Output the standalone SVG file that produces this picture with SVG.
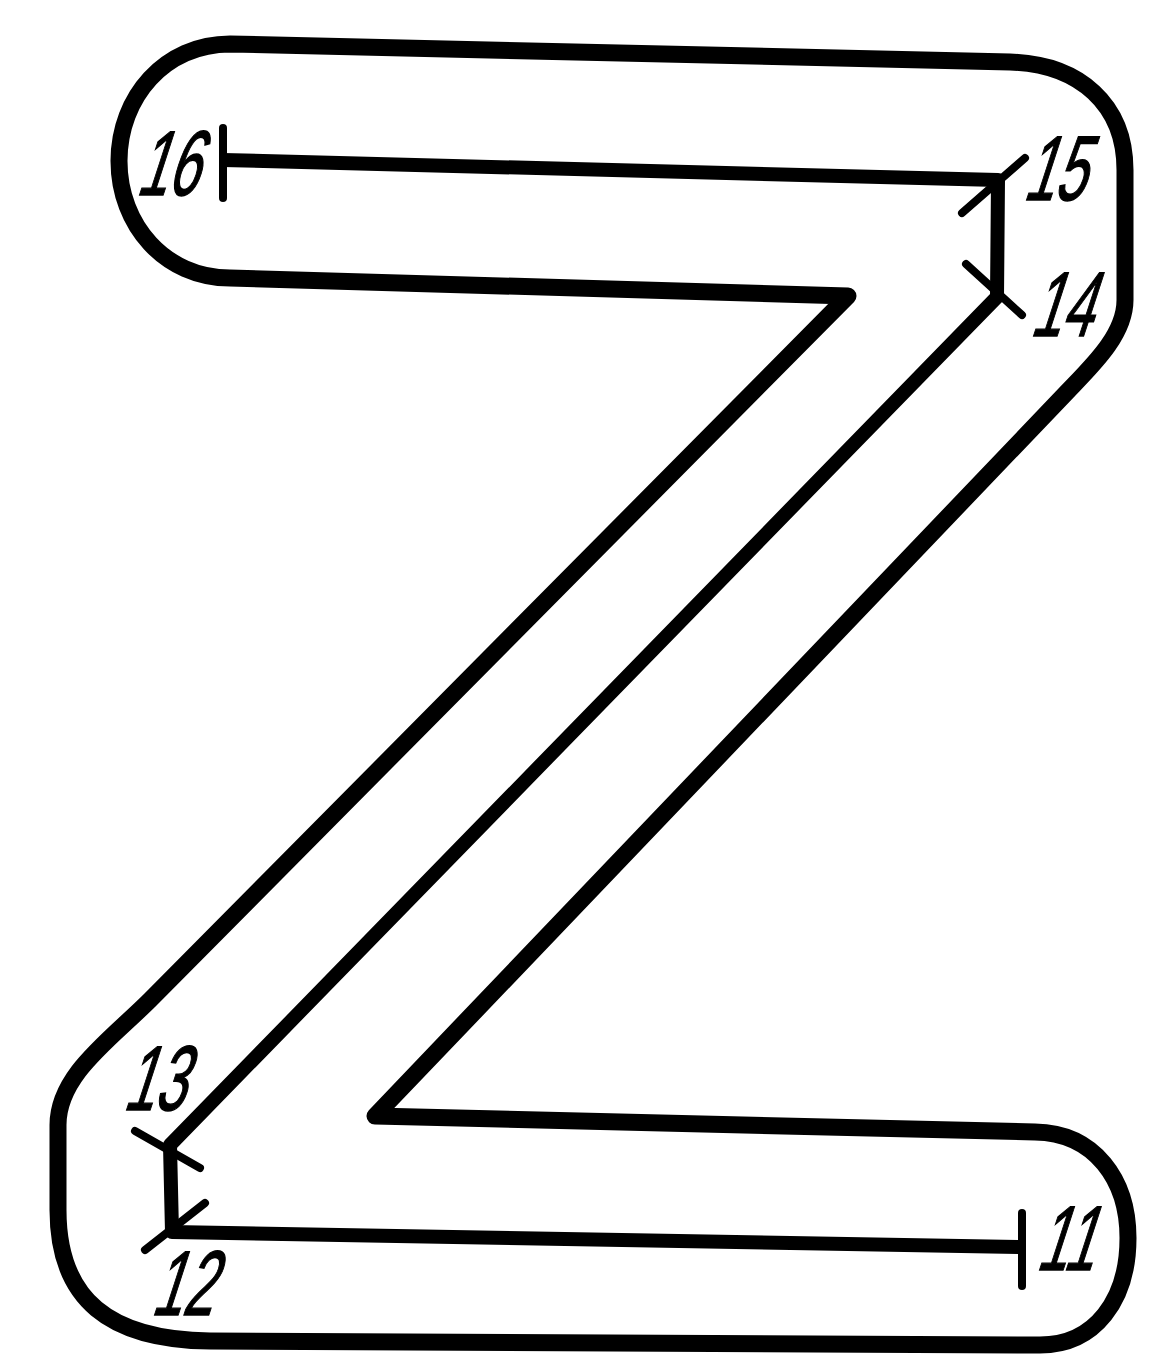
<svg xmlns="http://www.w3.org/2000/svg" width="1149" height="1358" viewBox="0 0 1149 1358">
<style>
.outline{fill:none;stroke:#000;stroke-width:17;stroke-linejoin:round;stroke-linecap:round}
.path{fill:none;stroke:#000;stroke-width:14;stroke-linejoin:round;stroke-linecap:butt}
.tick{stroke:#000;stroke-width:8;stroke-linecap:round}
.lbl{font-family:"Liberation Sans",Arial,sans-serif;font-size:92px;font-weight:normal;fill:#000;stroke:#000;stroke-width:1.5;text-anchor:middle}
</style>
<rect width="1149" height="1358" fill="#fff"/>
<g id="outline">
<path class="outline" d="M230,44 L1010,62 C1080,64 1125,105 1125,170 L1125,300 C1125,335 1092,366 1067,392 L375,1116 L1035,1132 C1095,1133 1128,1180 1128,1238 C1128,1300 1095,1345 1040,1345 L210,1341 C110,1340 58,1300 58,1210 L58,1125 C58,1075 110,1040 150,1000 L848,296 L230,278 C165,278 119,225 119,161 C119,97 165,44 230,44 Z"/>
</g>
<g id="connectors">
<polyline class="path" points="223,160 998,180 997,297 170,1145 172,1232 1022,1247"/>
<line class="tick" x1="223" y1="128" x2="223" y2="198"/>
<line class="tick" x1="962" y1="213" x2="1025" y2="158"/>
<line class="tick" x1="966" y1="264" x2="1022" y2="315"/>
<line class="tick" x1="135" y1="1131" x2="200" y2="1168"/>
<line class="tick" x1="145" y1="1250" x2="205" y2="1203"/>
<line class="tick" x1="1022" y1="1213" x2="1022" y2="1286"/>
</g>
<g id="n16"><text class="lbl" transform="translate(166,195) skewX(-18) scale(0.6,1)">16</text></g>
<g id="n15"><text class="lbl" transform="translate(1053,200) skewX(-18) scale(0.6,1)">15</text></g>
<g id="n14"><text class="lbl" transform="translate(1060,336) skewX(-18) scale(0.6,1)">14</text></g>
<g id="n13"><text class="lbl" transform="translate(153,1110) skewX(-18) scale(0.6,1)">13</text></g>
<g id="n12"><text class="lbl" transform="translate(181,1315) skewX(-18) scale(0.6,1)">12</text></g>
<g id="n11"><text class="lbl" transform="translate(1064,1270) skewX(-18) scale(0.6,1)">11</text></g>
</svg>
